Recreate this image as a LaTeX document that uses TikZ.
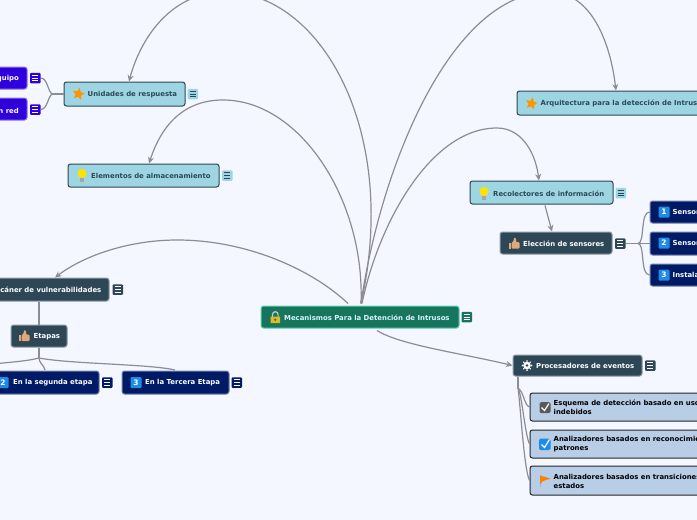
\documentclass[tikz,border=0pt]{standalone}
\usepackage{fontspec}
\setmainfont{DejaVu Sans}
\usetikzlibrary{arrows.meta,shapes.geometric}
\definecolor{bgc}{HTML}{F4F7FF}
\definecolor{linec}{HTML}{8C8C96}
\definecolor{greenc}{HTML}{17755E}
\definecolor{greenb}{HTML}{5FD0B0}
\definecolor{bluec}{HTML}{9DD5E3}
\definecolor{slatec}{HTML}{2E4757}
\definecolor{navyc}{HTML}{001A66}
\definecolor{purplec}{HTML}{3000DC}
\definecolor{palec}{HTML}{B8CDE6}
\definecolor{tanc}{HTML}{E0A878}
\definecolor{numc}{HTML}{1E8CE6}
\tikzset{
  x=1pt,y=-1pt,
  box/.style={rounded corners=2.5pt,inner sep=0pt,line width=1pt},
  maintopic/.style={box,fill=greenc,draw=greenb},
  lightbox/.style={box,fill=bluec,draw=slatec},
  slatebox/.style={box,fill=slatec,draw=slatec!55},
  navybox/.style={box,fill=navyc,draw=navyc!55},
  purplebox/.style={box,fill=purplec,draw=purplec!55},
  palebox/.style={box,fill=palec,draw=black!85},
  lab/.style={font=\bfseries\fontsize{6.9}{9}\selectfont,inner sep=0pt,anchor=west,align=left},
  wlab/.style={lab,text=white},
  dlab/.style={lab,text=slatec},
  klab/.style={lab,text=black},
  conn/.style={draw=linec,line width=1.2pt},
  arr/.style={conn,-{Stealth[length=6.5pt,width=6pt]}},
  branch/.style={draw=linec,line width=1.6pt},
}
% name, x1, x2, y1, y2, style
\newcommand{\tbox}[6]{\node[#6,minimum width=(#3-#2)*1pt,minimum height=(#5-#4)*1pt] (#1) at ({(#2+#3)/2},{(#4+#5)/2}) {};}
% note icon: name, x (left), y (centre), fill, line colour
\newcommand{\noteicon}[5]{%
  \node[rounded corners=1pt,fill=#4,minimum width=10.5pt,minimum height=10.5pt,inner sep=0pt] (#1) at (#2+5.25,#3) {};
  \draw[#5,line width=0.7pt] (#2+2.2,#3-2.8) -- (#2+8.3,#3-2.8) (#2+2.2,#3) -- (#2+8.3,#3) (#2+2.2,#3+2.8) -- (#2+8.3,#3+2.8);}
\newcommand{\staricon}[2]{\node[star,star points=5,star point ratio=2.1,fill=orange!85!yellow,inner sep=0pt,minimum size=12.5pt,rotate=-12] at (#1,#2) {};}
\newcommand{\bulbicon}[2]{\fill[yellow!85!orange] (#1,#2-1) circle (4.6pt); \fill[gray!70] (#1-2.2,#2+3.2) rectangle (#1+2.2,#2+7);}
\newcommand{\thumbicon}[2]{\fill[tanc] (#1-5.5,#2-1) rectangle (#1-3,#2+5); \fill[tanc,rounded corners=1pt] (#1-2.5,#2-1) -- (#1-0.5,#2-2) -- (#1,#2-6) -- (#1+2,#2-5.5) -- (#1+2,#2-1.5) -- (#1+5.5,#2-1.5) -- (#1+5.5,#2+5) -- (#1-2.5,#2+5) -- cycle;}
\newcommand{\numicon}[3]{\node[rounded corners=1pt,fill=numc,text=white,font=\bfseries\fontsize{7.5}{8}\selectfont,minimum size=11pt,inner sep=0pt] at (#1,#2) {#3};}
\begin{document}
\begin{tikzpicture}
\useasboundingbox (0,0) rectangle (697,520);
\clip (0,0) rectangle (697,520);
\fill[bgc] (0,0) rectangle (697,520);

% nodes
\tbox{main}{261}{459}{306}{328}{maintopic}
\tbox{unid}{64}{185}{82}{106}{lightbox}
\tbox{elem}{68}{219}{164}{187}{lightbox}
\tbox{arq}{517}{740}{91}{115}{lightbox}
\tbox{reco}{470}{613}{181}{204}{lightbox}
\tbox{elec}{500}{612}{232}{254}{slatebox}
\tbox{proc}{513}{642}{355}{376}{slatebox}
\tbox{esc}{-40}{109}{278}{301}{slatebox}
\tbox{etap}{11}{67}{325}{347}{slatebox}
\tbox{equi}{-40}{27}{67}{89}{purplebox}
\tbox{red}{-40}{27}{98}{120}{purplebox}
\tbox{seg}{-12}{99}{371}{394}{navybox}
\tbox{ter}{122}{229}{371}{394}{navybox}
\tbox{sa}{650}{760}{201}{223}{navybox}
\tbox{sb}{650}{760}{232}{255}{navybox}
\tbox{sc}{650}{760}{264}{286}{navybox}
\tbox{pa}{530}{760}{393}{421}{palebox}
\tbox{pb}{530}{760}{430}{458}{palebox}
\tbox{pc}{530}{760}{466}{495}{palebox}

% note icons
\noteicon{nmain}{461.5}{317}{greenc}{white}
\noteicon{nunid}{187.5}{94}{bluec}{slatec}
\noteicon{nelem}{222}{175.5}{bluec}{slatec}
\noteicon{nreco}{615.5}{193}{bluec}{slatec}
\noteicon{nelec}{615}{243.5}{slatec}{white}
\noteicon{nproc}{645}{365.5}{slatec}{white}
\noteicon{nesc}{112.5}{289.5}{slatec}{white}
\noteicon{nequi}{30}{78}{purplec}{white}
\noteicon{nred}{30}{109.5}{purplec}{white}
\noteicon{nseg}{102}{382.5}{navyc}{white}
\noteicon{nter}{231.5}{382.5}{navyc}{white}

% free ends of branches
\coordinate (off) at (-2,363.5);
\coordinate (etf) at (39,358);
\coordinate (unf) at (53,94);
\coordinate (sef) at (638,243.5);
\coordinate (prf) at (518,388);

% connectors from the central topic
\draw[arr] ([shift={(1pt,2pt)}]main.north) .. controls (400,130) and (320,-8) .. (225,-8) .. controls (170,-8) and (140,40) .. (unid.north -| 129,0);
\draw[arr] ([shift={(1pt,2pt)}]main.north) .. controls (365,200) and (300,100) .. (223,100) .. controls (180,100) and (160,130) .. ([xshift=5.5pt]elem.north);
\draw[arr] ([shift={(1pt,2pt)}]main.north) .. controls (380,170) and (450,-8) .. (550,-8) .. controls (590,-8) and (610,40) .. (arq.north -| 616,0);
\draw[arr] ([shift={(2pt,2pt)}]main.north) .. controls (378,225) and (430,128) .. (497,128) .. controls (520,128) and (535,150) .. ([xshift=-2.5pt]reco.north);
\draw[arr] ([shift={(-12pt,2pt)}]main.north) .. controls (315,272) and (250,240) .. (177,240) .. controls (130,240) and (85,255) .. (esc.north -| 55,0);
\draw[arr] ([shift={(17pt,-2pt)}]main.south) .. controls (400,345) and (460,353) .. (proc.west);
\draw[arr] ([shift={(3.5pt,-1pt)}]reco.south) -- (elec.north -| 552,0);

% branches
\draw[branch] (unid.west) -- (unf);
\draw[conn] (unf) .. controls (48,94) and (48,78) .. (nequi.east);
\draw[conn] (unf) .. controls (48,94) and (48,109.5) .. (nred.east);
\draw[branch] (nelec.east) -- (sef);
\draw[conn] (sef) .. controls (645,243.5) and (640,212) .. (sa.west);
\draw[conn] (sef) -- (sb.west);
\draw[conn] (sef) .. controls (645,243.5) and (640,275) .. (sc.west);
\draw[branch] (esc.south -| etf) -- (etap.north -| etf);
\draw[branch] (etap.south -| etf) -- (etf);
\draw[conn] (etf) .. controls (28,361) and (12,362) .. (off);
\draw[conn] (etf) .. controls (39,363) and (44,365) .. (45,370);
\draw[conn] (etf) .. controls (70,364) and (150,364) .. (175,370);
\draw[branch] (proc.south -| prf) -- (prf);
\draw[conn] (prf) .. controls (524,392) and (524,405) .. (pa.west);
\draw[conn] (prf) .. controls (522,395) and (525,435) .. (pb.west);
\draw[conn] (prf) .. controls (520,400) and (524,470) .. (pc.west);

% labels
\node[wlab,text=white!85!cyan] (t1) at (284,317.5) {Mecanismos Para la Detención de Intrusos};
\node[dlab] (t2) at (87.5,94.5) {Unidades de respuesta};
\node[dlab] (t3) at (91,175.5) {Elementos de almacenamiento};
\node[dlab] (t4) at (540.5,103.5) {Arquitectura para la detección de Intrusos};
\node[dlab] (t5) at (493,193.5) {Recolectores de información};
\node[wlab] (t6) at (523,243.5) {Elección de sensores};
\node[wlab] (t7) at (536,365.5) {Procesadores de eventos};
\node[wlab,anchor=east] (t8) at (101.5,289.5) {Escáner de vulnerabilidades};
\node[wlab] (t9) at (33.5,336.5) {Etapas};
\node[wlab,anchor=east] (t10) at (19,78.5) {Equipo};
\node[wlab,anchor=east] (t11) at (19,110.5) {En red};
\node[wlab] (t12) at (13,382.5) {En la segunda etapa};
\node[wlab] (t13) at (145,382.5) {En la Tercera Etapa};
\node[wlab] (t14) at (672.5,212) {Sensores};
\node[wlab] (t15) at (672.5,243) {Sensores};
\node[wlab] (t16) at (672.5,275) {Instalación};
\node[klab] (t17) at (553.5,407.5) {Esquema de detección basado en usos\\indebidos};
\node[klab] (t18) at (553.5,444) {Analizadores basados en reconocimiento de\\patrones};
\node[klab] (t19) at (553.5,481) {Analizadores basados en transiciones de\\estados};

% icons
\draw[gray!45,line width=1.2pt] (272.5,317) -- (272.5,314.5) arc (180:0:2.8pt and 2.8pt) -- (278.1,317);
\fill[yellow!70!orange!85!black,rounded corners=0.5pt] (270.5,316.5) rectangle (280.2,323);
\fill[black!70] (275.3,319.7) circle (1.1pt);
\staricon{78.5}{94}
\staricon{531.5}{103.5}
\bulbicon{82}{174.5}
\bulbicon{484}{192.5}
\thumbicon{514}{243.5}
\thumbicon{24}{336}
\fill[white] (527,365.5) circle (3.8pt);
\fill[slatec] (527,365.5) circle (1.4pt);
\foreach \a in {0,45,...,315} {\fill[white] (527,365.5) ++(\a:4.6pt) circle (0.9pt);}
\numicon{3}{382.5}{2}
\numicon{136}{382.5}{3}
\numicon{664}{212}{1}
\numicon{664}{243}{2}
\numicon{664}{275}{3}
\fill[black!65,rounded corners=1.5pt] (539.5,402) rectangle (550.5,413);
\draw[white,line width=1.2pt] (541.5,407.5) -- (544.5,410.5) -- (549,403.5);
\fill[numc,rounded corners=1.5pt] (539,438.5) rectangle (550.5,450);
\draw[white,line width=1.2pt] (541.5,444.5) -- (544.5,447.5) -- (549.5,439.5);
\fill[gray!60] (539.5,475) rectangle (540.3,487);
\fill[orange] (540,475.5) -- (550.5,478.5) -- (543,481) -- (540,484) -- cycle;
\end{tikzpicture}
\end{document}
